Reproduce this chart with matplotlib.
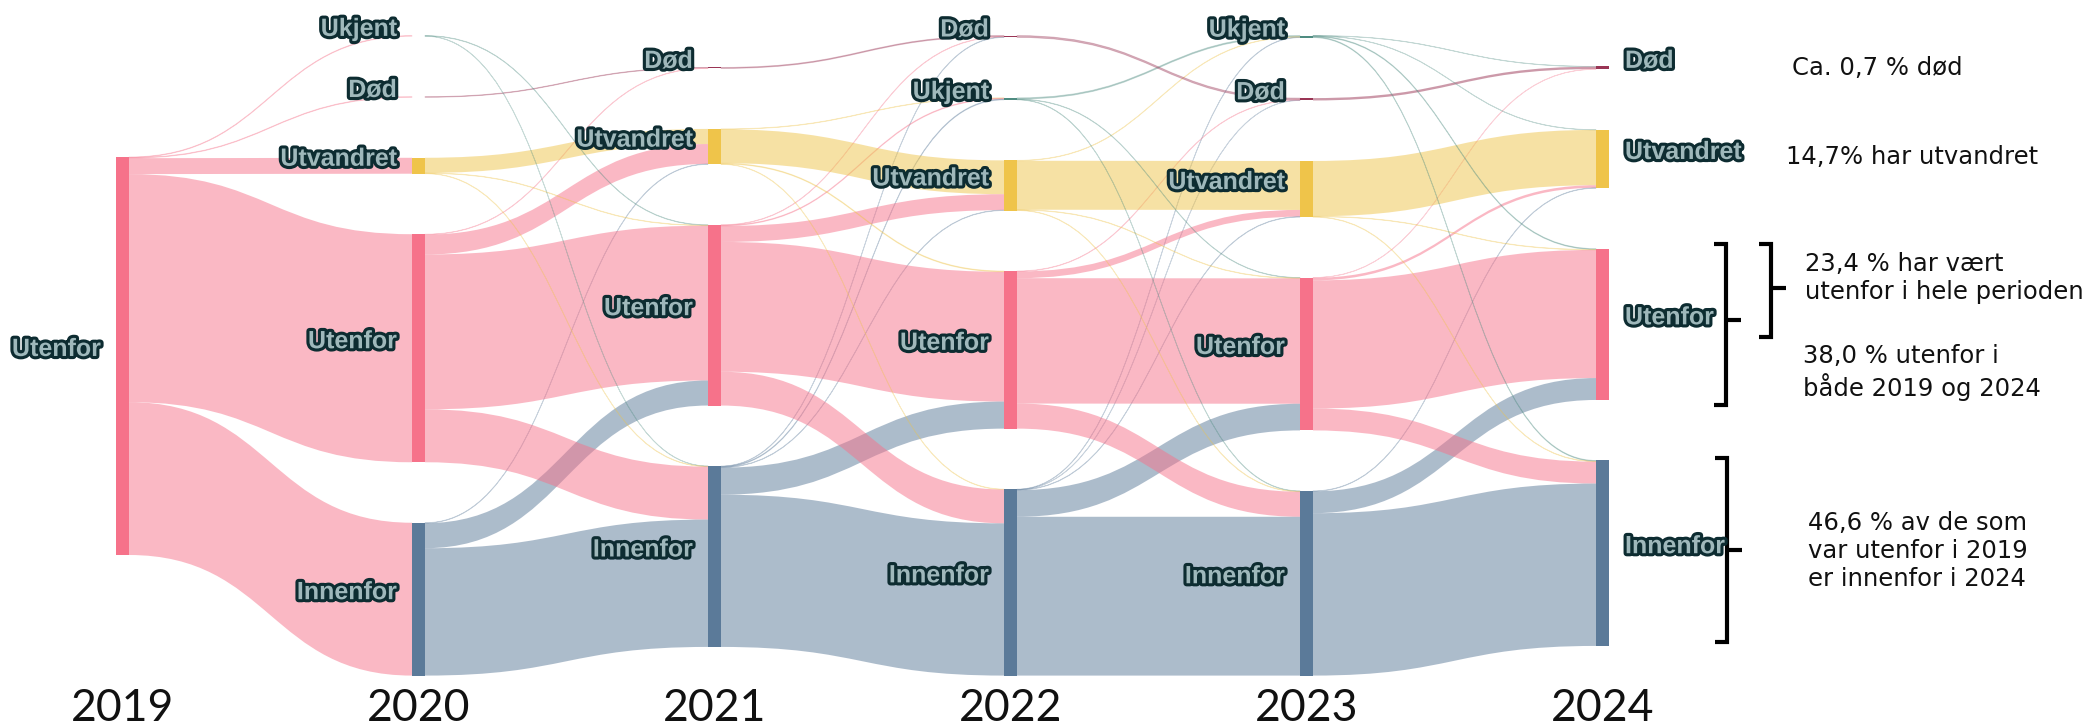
import matplotlib.pyplot as plt
import matplotlib.patheffects as pe
from matplotlib.path import Path
from matplotlib.patches import PathPatch, Rectangle
from matplotlib.colors import to_rgba

years = ['2019', '2020', '2021', '2022', '2023', '2024']

# nodes in each column, top to bottom
columns = [
    ['Utenfor'],
    ['Ukjent', 'Død', 'Utvandret', 'Utenfor', 'Innenfor'],
    ['Død', 'Utvandret', 'Utenfor', 'Innenfor'],
    ['Død', 'Ukjent', 'Utvandret', 'Utenfor', 'Innenfor'],
    ['Ukjent', 'Død', 'Utvandret', 'Utenfor', 'Innenfor'],
    ['Død', 'Utvandret', 'Utenfor', 'Innenfor'],
]

# flows in % of those who were utenfor in 2019: (from, to, value)
flows_2019_2020 = [
    ('Utenfor', 'Ukjent', 0.15), ('Utenfor', 'Død', 0.15),
    ('Utenfor', 'Utvandret', 4.0), ('Utenfor', 'Utenfor', 57.3),
    ('Utenfor', 'Innenfor', 38.4),
]
flows_2020_2021 = [
    ('Ukjent', 'Utenfor', 0.1), ('Ukjent', 'Innenfor', 0.05),
    ('Død', 'Død', 0.15),
    ('Utvandret', 'Utvandret', 3.8), ('Utvandret', 'Utenfor', 0.1), ('Utvandret', 'Innenfor', 0.1),
    ('Utenfor', 'Død', 0.1), ('Utenfor', 'Utvandret', 5.0), ('Utenfor', 'Utenfor', 38.9),
    ('Utenfor', 'Innenfor', 13.3),
    ('Innenfor', 'Utvandret', 0.1), ('Innenfor', 'Utenfor', 6.3), ('Innenfor', 'Innenfor', 32.0),
]
flows_2021_2022 = [
    ('Død', 'Død', 0.25),
    ('Utvandret', 'Ukjent', 0.1), ('Utvandret', 'Utvandret', 8.5),
    ('Utvandret', 'Utenfor', 0.2), ('Utvandret', 'Innenfor', 0.1),
    ('Utenfor', 'Død', 0.1), ('Utenfor', 'Ukjent', 0.2), ('Utenfor', 'Utvandret', 4.0),
    ('Utenfor', 'Utenfor', 32.6), ('Utenfor', 'Innenfor', 8.5),
    ('Innenfor', 'Død', 0.1), ('Innenfor', 'Ukjent', 0.2), ('Innenfor', 'Utvandret', 0.1),
    ('Innenfor', 'Utenfor', 6.8), ('Innenfor', 'Innenfor', 38.25),
]
flows_2022_2023 = [
    ('Død', 'Død', 0.45),
    ('Ukjent', 'Ukjent', 0.3), ('Ukjent', 'Utenfor', 0.1), ('Ukjent', 'Innenfor', 0.1),
    ('Utvandret', 'Ukjent', 0.1), ('Utvandret', 'Utvandret', 12.3),
    ('Utvandret', 'Utenfor', 0.1), ('Utvandret', 'Innenfor', 0.1),
    ('Utenfor', 'Død', 0.1), ('Utenfor', 'Utvandret', 1.7), ('Utenfor', 'Utenfor', 31.5),
    ('Utenfor', 'Innenfor', 6.3),
    ('Innenfor', 'Død', 0.05), ('Innenfor', 'Ukjent', 0.1), ('Innenfor', 'Utvandret', 0.1),
    ('Innenfor', 'Utenfor', 6.7), ('Innenfor', 'Innenfor', 39.9),
]
flows_2023_2024 = [
    ('Ukjent', 'Død', 0.05), ('Ukjent', 'Utvandret', 0.05),
    ('Ukjent', 'Utenfor', 0.2), ('Ukjent', 'Innenfor', 0.2),
    ('Død', 'Død', 0.6),
    ('Utvandret', 'Utvandret', 13.9), ('Utvandret', 'Utenfor', 0.1), ('Utvandret', 'Innenfor', 0.1),
    ('Utenfor', 'Død', 0.05), ('Utenfor', 'Utvandret', 0.65), ('Utenfor', 'Utenfor', 32.2),
    ('Utenfor', 'Innenfor', 5.5),
    ('Innenfor', 'Utvandret', 0.1), ('Innenfor', 'Utenfor', 5.5), ('Innenfor', 'Innenfor', 40.8),
]
steps = [flows_2019_2020, flows_2020_2021, flows_2021_2022, flows_2022_2023, flows_2023_2024]

share_whole_period = 23.4  # utenfor i hele perioden

notes = {
    'dod': 'Ca. 0,7 % død',
    'utv': '14,7% har utvandret',
    'hele': '23,4 % har vært\nutenfor i hele perioden',
    'begge': '38,0 % utenfor i\nbåde 2019 og 2024',
    'inn': '46,6 % av de som\nvar utenfor i 2019\ner innenfor i 2024',
}

node_colors = {
    'Utenfor': '#f6728a',
    'Innenfor': '#5b7a99',
    'Utvandret': '#efc44a',
    'Død': '#9a3555',
    'Ukjent': '#4f8c81',
}

# layout (sankey arrangement)
W, H, DPI = 2091, 728, 100
col_px = 296          # px between columns
unit_px = 3.98        # px per percent
first_px = 116
top_px = 35.6
node_pad = 15.2
col_offset = [30.5, 0, 8.0, 0, 0, 7.75]
bar_w = 13 / col_px
px = 1 / col_px       # one pixel in x data units
pu = 1 / unit_px      # one pixel in y data units

# node sizes
inflow, outflow = {}, {}
for i, step in enumerate(steps):
    for s, t, v in step:
        outflow[(i, s)] = outflow.get((i, s), 0) + v
        inflow[(i + 1, t)] = inflow.get((i + 1, t), 0) + v
size = {}
top = {}
for c, names in enumerate(columns):
    y = col_offset[c]
    for k, n in enumerate(names):
        if k > 0:
            y += node_pad
        size[(c, n)] = max(inflow.get((c, n), 0), outflow.get((c, n), 0))
        top[(c, n)] = y
        y += size[(c, n)]

fig = plt.figure(figsize=(W / DPI, H / DPI), dpi=DPI)
ax = fig.add_axes([0, 0, 1, 1])
ax.set_xlim(-first_px / col_px, (W - first_px) / col_px)
ax.set_ylim((H - top_px) / unit_px, -top_px / unit_px)
ax.axis('off')


def center(c, n):
    return top[(c, n)] + size[(c, n)] / 2


# links
for i, step in enumerate(steps):
    out_pos = {n: top[(i, n)] for n in columns[i]}
    in_pos = {n: top[(i + 1, n)] for n in columns[i + 1]}
    links = []
    for s, t, v in sorted(step, key=lambda f: center(i + 1, f[1])):
        y0 = out_pos[s]
        out_pos[s] += v
        links.append([s, t, v, y0, 0])
    for lk in sorted(links, key=lambda f: center(i, f[0])):
        lk[4] = in_pos[lk[1]]
        in_pos[lk[1]] += lk[2]
    x0, x1 = i + bar_w, i + 1
    xm = (x0 + x1) / 2
    for s, t, v, y0, y1 in links:
        verts = [(x0, y0), (xm, y0), (xm, y1), (x1, y1),
                 (x1, y1 + v), (xm, y1 + v), (xm, y0 + v), (x0, y0 + v), (x0, y0)]
        codes = [Path.MOVETO, Path.CURVE4, Path.CURVE4, Path.CURVE4,
                 Path.LINETO, Path.CURVE4, Path.CURVE4, Path.CURVE4, Path.CLOSEPOLY]
        col = node_colors[s]
        if v < 0.5:
            # hairline links
            patch = PathPatch(Path(verts, codes), facecolor=to_rgba(col, 0.4),
                              edgecolor=to_rgba(col, 0.28), lw=0.6)
        else:
            patch = PathPatch(Path(verts, codes), facecolor=to_rgba(col, 0.5), lw=0)
        ax.add_patch(patch)

# nodes and labels
label_fx = [pe.withStroke(linewidth=4.5, foreground='#0d2c31')]
for c, names in enumerate(columns):
    for n in names:
        ax.add_patch(Rectangle((c, top[(c, n)]), bar_w, size[(c, n)],
                               facecolor=node_colors[n], lw=0))
        if c < len(columns) - 1:
            lx, ha = c - 15 * px, 'right'
        else:
            lx, ha = c + bar_w + 16 * px, 'left'
        ax.text(lx, center(c, n), n, ha=ha, va='baseline', fontsize=18,
                fontweight='bold', color='#9fb8bb',
                family=['Liberation Sans', 'DejaVu Sans'], path_effects=label_fx)

# year labels
bottom = max(top[k] + size[k] for k in top)
for c, yr in enumerate(years):
    ax.text(c + bar_w / 2, bottom + 8.2, yr, ha='center', va='center',
            fontsize=32, color='#111111', family=['Lato', 'DejaVu Sans'])

# brackets and notes at 2024
last = len(columns) - 1
xr = last + bar_w
note_kw = dict(fontsize=17.5, color='#111111', family=['DejaVu Sans'], va='center', ha='left')


def bracket(xv, ya, yb, ym):
    ax.plot([xv - 12 * px, xv, xv, xv - 12 * px], [ya, ya, yb, yb],
            color='black', lw=3, solid_joinstyle='miter', solid_capstyle='butt')
    ax.plot([xv, xv + 15 * px], [ym, ym], color='black', lw=3, solid_capstyle='butt')


u_top = top[(last, 'Utenfor')]
u_bot = u_top + size[(last, 'Utenfor')]
i_top = top[(last, 'Innenfor')]
i_bot = i_top + size[(last, 'Innenfor')]

bracket(xr + 117 * px, u_top - 5 * pu, u_bot + 5 * pu, (u_top + u_bot) / 2 - 1)
bracket(xr + 162 * px, u_top - 5 * pu, u_top + share_whole_period - 1.3,
        u_top + share_whole_period / 2 - 1.9)
bracket(xr + 118 * px, i_top - 2 * pu, i_bot - 4 * pu, center(last, 'Innenfor') - 0.9)

ax.text(xr + 183 * px, center(last, 'Død'), notes['dod'], **note_kw)
ax.text(xr + 177 * px, center(last, 'Utvandret') - 0.4, notes['utv'], **note_kw)
ax.text(xr + 196 * px, u_top + 7.3, notes['hele'], **note_kw)
ax.text(xr + 194 * px, u_bot - 6.9, notes['begge'], **note_kw)
ax.text(xr + 199 * px, center(last, 'Innenfor') - 0.5, notes['inn'], **note_kw)

fig.savefig('out.png', dpi=DPI)
